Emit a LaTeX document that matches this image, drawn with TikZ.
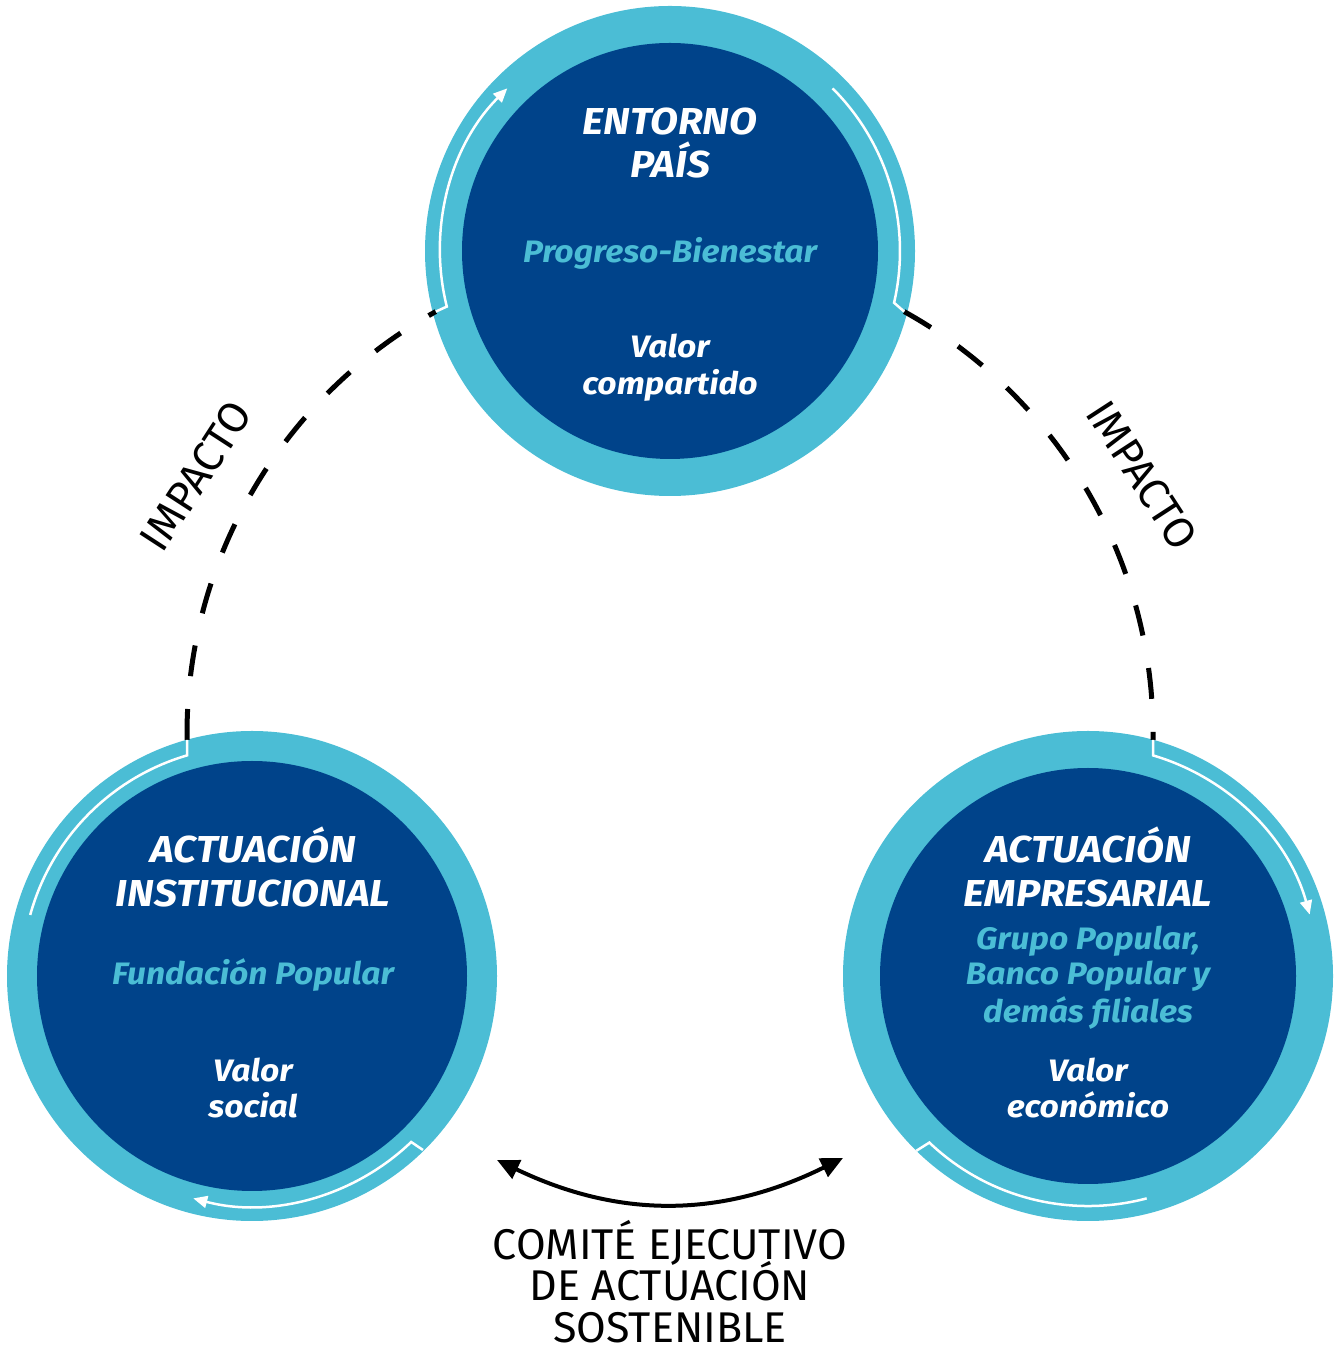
\documentclass[tikz,border=0pt]{standalone}
\usepackage{fontspec}
\setmainfont{Fira Sans}
\newfontfamily\circfont[FakeStretch=1.085]{Fira Sans}
\usetikzlibrary{arrows.meta}
\definecolor{ring}{RGB}{75,189,213}
\definecolor{core}{RGB}{0,67,138}
\begin{document}
\begin{tikzpicture}[x=1pt,y=1pt,
  title/.style={text=white,font=\circfont\fontsize{37.5}{44}\selectfont\bfseries\itshape,anchor=base,inner sep=0},
  sub/.style={text=ring,font=\circfont\fontsize{31}{37}\selectfont\bfseries\itshape,anchor=base,inner sep=0},
  val/.style={text=white,font=\circfont\fontsize{31}{37}\selectfont\bfseries\itshape,anchor=base,inner sep=0},
  outer/.style={circle,fill=ring,minimum size=490pt,inner sep=0},
  flow/.style={white,line width=2.5pt},
  flowtip/.style={flow,-{Triangle[length=14pt,width=12pt]}},
  dashlink/.style={black,line width=5pt,dash pattern=on 31pt off 33pt},
  plain/.style={font=\fontsize{43}{41}\selectfont,inner sep=0}]
\useasboundingbox (0,0) rectangle (1334,1350);
% circles
\node[outer] (topO) at (670,1099) {};
\node[circle,fill=core,minimum size=416pt,inner sep=0] (topI) at (670,1099) {};
\node[outer] (leftO) at (252,374) {};
\node[circle,fill=core,minimum size=430pt,inner sep=0] (leftI) at (252,374) {};
\node[outer] (rightO) at (1088,374) {};
\node[circle,fill=core,minimum size=416pt,inner sep=0] (rightI) at (1088,374) {};
% link coordinates
\coordinate (LP) at (187,610);
\coordinate (LQ) at (187,594.6);
\coordinate (TLP) at (435.8,1038.4);
\coordinate (TLQ) at (446.8,1043.4);
\coordinate (TRS) at (832.6,1261.6);
\coordinate (TRP) at (904.2,1038.4);
\coordinate (RP) at (1153,610);
\coordinate (RQ) at (1153,594.6);
\coordinate (LBP) at (423,200);
\coordinate (LBQ) at (411.2,208);
\coordinate (RBS) at (1146.7,151.6);
\coordinate (RBP) at (916.3,199.2);
\coordinate (ba) at (497,190);
\coordinate (bb) at (843,192);
% dashed links
\draw[dashlink] (LP) -- ++(0,6) arc[start angle=180,end angle=119,radius=483pt];
\draw[dashlink] (TRP) arc[start angle=61,end angle=0,radius=483pt] -- (RP);
% white flows on rings
\draw[flowtip] (TLP) -- (TLQ) arc[start angle=194,end angle=135,radius=230pt];
\draw[flow] (TRS) arc[start angle=45,end angle=-13,radius=230pt] -- (TRP);
\draw[flowtip] (RP) -- (RQ) arc[start angle=73.6,end angle=15.5,radius=230pt];
\draw[flow] (RBS) arc[start angle=-75.2,end angle=-133.6,radius=230pt] -- (RBP);
\draw[flowtip] (LBP) -- (LBQ) arc[start angle=-46.2,end angle=-104.8,radius=230pt];
\draw[flow] (LP) -- (LQ) arc[start angle=106.4,end angle=164.6,radius=230pt];
% bottom double arrow
\draw[line width=4pt,{Triangle[length=22pt,width=20pt]}-{Triangle[length=22pt,width=20pt]}] (ba) to[bend right=26] (bb);
% top texts
\node[title] (t1) at (670,1215) {ENTORNO};
\node[title] (t2) at (670,1172) {PAÍS};
\node[sub] (t3) at (670,1087) {Progreso-Bienestar};
\node[val] (t4) at (670,992) {Valor};
\node[val] (t5) at (670,955) {compartido};
% left texts
\node[title] (l1) at (253,487) {ACTUACIÓN};
\node[title] (l2) at (253,443) {INSTITUCIONAL};
\node[sub] (l3) at (253,365) {Fundación Popular};
\node[val] (l4) at (253,268) {Valor};
\node[val] (l5) at (253,232) {social};
% right texts
\node[title] (r1) at (1088,487) {ACTUACIÓN};
\node[title] (r2) at (1088,443) {EMPRESARIAL};
\node[sub] (r3) at (1088,400) {Grupo Popular,};
\node[sub] (r4) at (1088,365) {Banco Popular y};
\node[sub] (r5) at (1088,327) {demás filiales};
\node[val] (r6) at (1088,268) {Valor};
\node[val] (r7) at (1088,232) {económico};
% labels
\node[plain,rotate=57] (impL) at (196,874) {IMPACTO};
\node[plain,rotate=-57] (impR) at (1142,875) {IMPACTO};
\node[plain,anchor=base] (c1) at (670,90) {COMITÉ EJECUTIVO};
\node[plain,anchor=base] (c2) at (670,49) {DE ACTUACIÓN};
\node[plain,anchor=base] (c3) at (670,8) {SOSTENIBLE};
\end{tikzpicture}
\end{document}
